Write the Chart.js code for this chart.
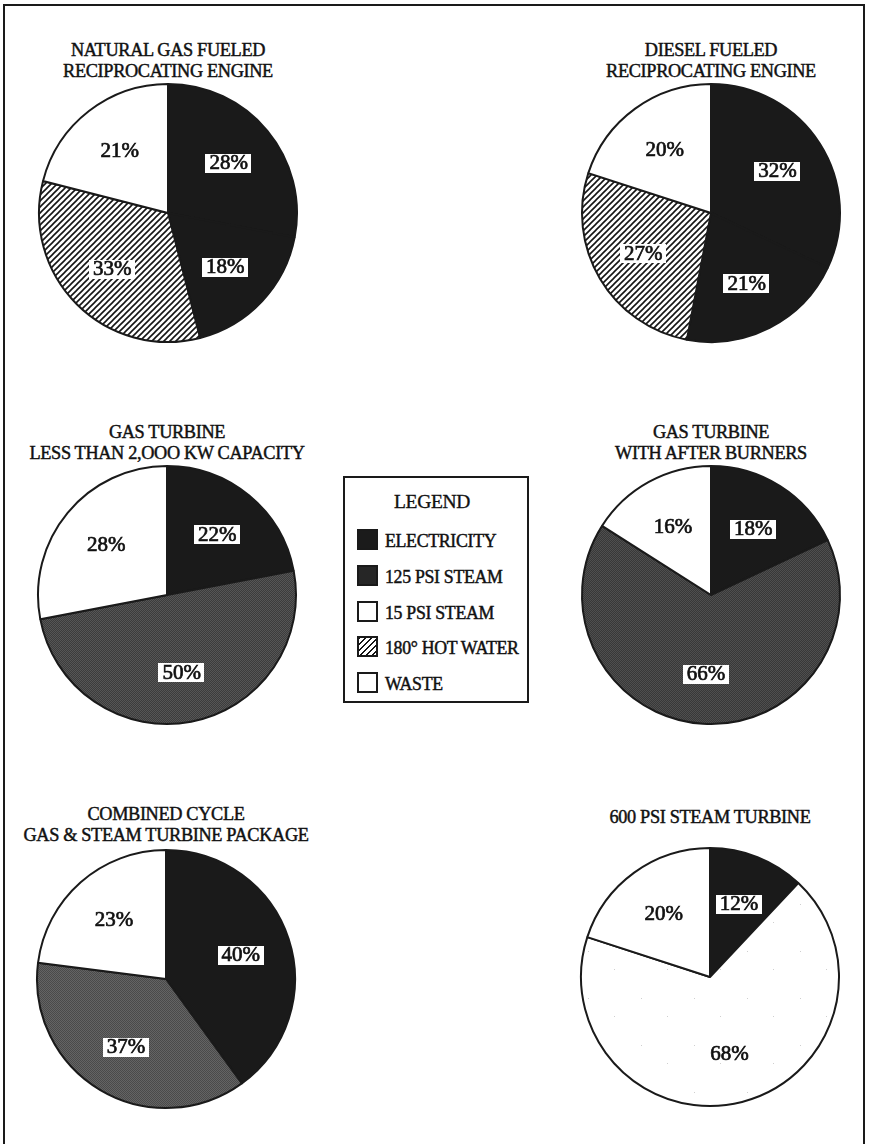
<!DOCTYPE html>
<html>
<head>
<meta charset="utf-8">
<script src="https://cdn.jsdelivr.net/npm/chart.js@4/dist/chart.umd.min.js"></script>
<style>
  html, body { margin: 0; padding: 0; background: #fff; }
  body {
    width: 873px; height: 1144px; position: relative; overflow: hidden;
    font-family: 'Liberation Serif', 'Times New Roman', serif; color: #111;
  }
  .frame {
    position: absolute; left: 3px; top: 4px; width: 862px; height: 1200px;
    border: 2px solid #1a1a1a; box-sizing: border-box;
  }
  .title {
    position: absolute; width: 380px; text-align: center;
    font-size: 18.3px; line-height: 21px; letter-spacing: -0.35px; white-space: nowrap;
    -webkit-text-stroke: 0.45px #111;
  }
  canvas.pie { position: absolute; }
  .legend {
    position: absolute; left: 343px; top: 476px; width: 186px; height: 227px;
    border: 2px solid #1a1a1a; box-sizing: border-box;
  }
  .legend h3 {
    margin: 0; position: absolute; left: 0; right: 8px; top: 13px; text-align: center;
    font-weight: normal; font-size: 19.5px; letter-spacing: -0.3px;
    -webkit-text-stroke: 0.35px #111;
  }
  .legend .item {
    position: absolute; left: 12px; height: 22px; line-height: 22px;
    font-size: 17.8px; letter-spacing: -0.3px; white-space: nowrap;
    -webkit-text-stroke: 0.45px #111;
  }
  .legend .sw {
    display: inline-block; width: 17px; height: 17px; vertical-align: -3px;
    border: 2px solid #1a1a1a; margin-right: 7px; box-sizing: content-box;
  }
</style>
</head>
<body>
<div class="frame"></div>
<div id="root"></div>
<script>
// Energy output categories, in the order slices run clockwise from 12 o'clock
const categories = ['ELECTRICITY', '125 PSI STEAM', '15 PSI STEAM', '180° HOT WATER', 'WASTE'];

// Percent of fuel energy going to each category
const naturalGasEngine      = [28, 18, 0, 33, 21];
const dieselEngine          = [32, 21, 0, 27, 20];
const gasTurbineSmall       = [22, 50, 0, 0, 28];
const gasTurbineAfterBurner = [18, 66, 0, 0, 16];
const combinedCycle         = [40, 37, 0, 0, 23];
const steamTurbine600       = [12, 0, 68, 0, 20];

const chartTitles = [
  ['NATURAL GAS FUELED', 'RECIPROCATING ENGINE'],
  ['DIESEL FUELED', 'RECIPROCATING ENGINE'],
  ['GAS TURBINE', 'LESS THAN 2,OOO KW CAPACITY'],
  ['GAS TURBINE', 'WITH AFTER BURNERS'],
  ['COMBINED CYCLE', 'GAS & STEAM TURBINE PACKAGE'],
  ['600 PSI STEAM TURBINE']
];
const chartValues = [naturalGasEngine, dieselEngine, gasTurbineSmall,
                     gasTurbineAfterBurner, combinedCycle, steamTurbine600];

// ---- page layout: pie centres, radius, title placement ----
const RADIUS = 129;
const centres = [[168, 213], [711, 213], [167, 595], [711, 595], [166, 979], [710, 977]];
const titleTops = [40, 40, 422, 422, 804, 807];
const INK = '#1a1a1a';
// tones used for 125 psi steam in each pie (null = same solid ink as electricity)
const steamTones = [
  null, null, ['#3c3c3c', '#565656'],
  ['#383838', '#4f4f4f'], ['#4a4a4a', '#646464'], ['#3c3c3c', '#565656']
];

// ---- fills ----
function stipple(a, b) {
  const c = document.createElement('canvas');
  c.width = 2; c.height = 2;
  const g = c.getContext('2d');
  g.fillStyle = a; g.fillRect(0, 0, 2, 2);
  g.fillStyle = b; g.fillRect(0, 0, 1, 1); g.fillRect(1, 1, 1, 1);
  return g.createPattern(c, 'repeat');
}
function hatchPattern() {
  const c = document.createElement('canvas');
  c.width = 6; c.height = 6;
  const g = c.getContext('2d');
  g.fillStyle = '#fff'; g.fillRect(0, 0, 6, 6);
  g.strokeStyle = '#151515'; g.lineWidth = 1.6;
  g.beginPath();
  g.moveTo(-1, 7); g.lineTo(7, -1);
  g.moveTo(-1, 1); g.lineTo(1, -1);
  g.moveTo(5, 7); g.lineTo(7, 5);
  g.stroke();
  return g.createPattern(c, 'repeat');
}
function speckPattern() {
  const c = document.createElement('canvas');
  c.width = 53; c.height = 47;
  const g = c.getContext('2d');
  g.fillStyle = '#fff'; g.fillRect(0, 0, 53, 47);
  g.fillStyle = '#cfcfcf';
  g.fillRect(11, 13, 1, 1); g.fillRect(37, 31, 1, 1);
  return g.createPattern(c, 'repeat');
}
const hatch = hatchPattern();
const speck = speckPattern();

function fillsFor(idx) {
  const s = steamTones[idx];
  return [INK, s ? stipple(s[0], s[1]) : INK, speck, hatch, '#ffffff'];
}

// ---- percent labels in white boxes ----
const sliceLabels = {
  id: 'sliceLabels',
  afterDatasetsDraw(chart) {
    const ctx = chart.ctx;
    const meta = chart.getDatasetMeta(0);
    const values = chart.data.datasets[0].data;
    ctx.save();
    ctx.font = '21px "Liberation Serif", serif';
    ctx.textAlign = 'center';
    ctx.textBaseline = 'middle';
    meta.data.forEach((arc, i) => {
      const p = arc.getProps(['x', 'y', 'startAngle', 'endAngle', 'outerRadius'], true);
      const mid = (p.startAngle + p.endAngle) / 2;
      const rr = p.outerRadius * 0.61;
      const px = p.x + Math.cos(mid) * rr;
      const py = p.y + Math.sin(mid) * rr;
      const txt = values[i] + '%';
      const w = ctx.measureText(txt).width;
      ctx.fillStyle = '#ffffff';
      ctx.fillRect(Math.round(px - w / 2 - 4), Math.round(py - 9), Math.round(w + 8), 19);
      ctx.fillStyle = '#111';
      ctx.strokeStyle = '#111';
      ctx.lineWidth = 0.7;
      ctx.fillText(txt, px, py + 1);
      ctx.strokeText(txt, px, py + 1);
    });
    ctx.restore();
  }
};

const root = document.getElementById('root');
chartValues.forEach((vals, idx) => {
  const [cx, cy] = centres[idx];

  const t = document.createElement('div');
  t.className = 'title';
  t.style.left = (cx - 190) + 'px';
  t.style.top = titleTops[idx] + 'px';
  t.innerHTML = chartTitles[idx].join('<br>');
  root.appendChild(t);

  const half = RADIUS + 4;
  const cv = document.createElement('canvas');
  cv.className = 'pie';
  cv.width = half * 2; cv.height = half * 2;
  cv.style.left = (cx - half) + 'px';
  cv.style.top = (cy - half) + 'px';
  root.appendChild(cv);

  // keep only the categories present in this pie
  const fills = fillsFor(idx);
  const keep = vals.map((v, i) => i).filter(i => vals[i] > 0);

  new Chart(cv, {
    type: 'pie',
    data: {
      labels: keep.map(i => categories[i]),
      datasets: [{
        data: keep.map(i => vals[i]),
        backgroundColor: keep.map(i => fills[i]),
        borderColor: INK,
        borderWidth: 2,
        hoverOffset: 0,
        offset: 0
      }]
    },
    options: {
      responsive: false,
      animation: false,
      events: [],
      radius: RADIUS,
      layout: { padding: 0 },
      plugins: { legend: { display: false }, tooltip: { enabled: false }, title: { display: false } }
    },
    plugins: [sliceLabels]
  });
});

// ---- legend box ----
const legend = document.createElement('div');
legend.className = 'legend';
legend.innerHTML = '<h3>LEGEND</h3>';
const swatchCss = [
  'background:#1b1b1b',
  'background:#262626',
  'background:#fff',
  'background:repeating-linear-gradient(135deg,#151515 0 1.4px,#fff 1.4px 4.2px)',
  'background:#fff'
];
categories.forEach((name, i) => {
  const it = document.createElement('div');
  it.className = 'item';
  it.style.top = (51 + i * 35.8) + 'px';
  it.innerHTML = '<span class="sw" style="' + swatchCss[i] + '"></span>' + name;
  legend.appendChild(it);
});
root.appendChild(legend);
</script>
</body>
</html>
